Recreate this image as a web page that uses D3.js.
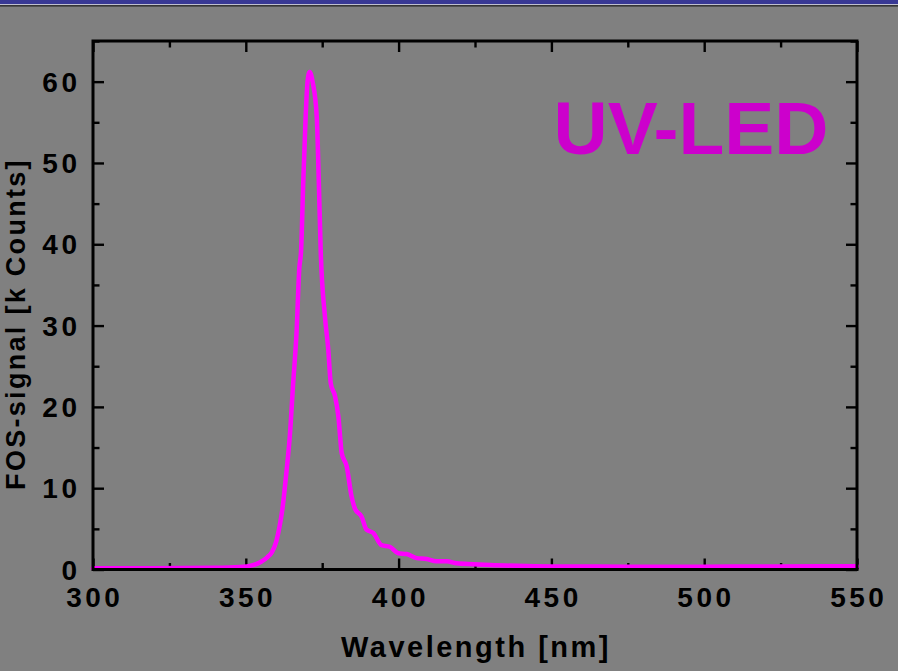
<!DOCTYPE html>
<html>
<head>
<meta charset="utf-8">
<script src="https://cdn.jsdelivr.net/npm/d3@7"></script>
<style>
  html, body { margin: 0; padding: 0; background: #808080; }
  svg { display: block; }
  text { font-family: "Liberation Sans", Arial, Helvetica, sans-serif; font-weight: bold; }
</style>
</head>
<body>
<svg id="chart" width="898" height="671"></svg>
<script>
// Emission spectrum of the UV-LED measured with the FOS spectrometer
const wavelength = [300, 320, 340, 348, 352, 355, 357, 358.5, 360, 361, 362, 363.3, 364.4, 365.5, 366.6, 367.5,
  368.1, 368.8, 369.6, 370.2, 370.9, 371.9, 373.2, 373.9, 374.5, 375.9, 377, 377.8, 379.2, 380.3, 381.4, 383,
  384.6, 385.7, 387.9, 389.5, 391.7, 394.4, 397.1, 399.9, 402.6, 405.9, 409.2, 412.4, 415.7, 419, 424.4, 430,
  438.6, 450, 475, 500, 525, 550];
const signal = [0.15, 0.15, 0.2, 0.3, 0.5, 0.95, 1.5, 2.1, 3.5, 5.2, 7.5, 12, 16.4, 22.9, 29.1, 37,
  39.3, 47.6, 55.8, 60, 61.2, 59.9, 55.8, 47.6, 39.3, 31.1, 27, 22.9, 21.3, 18.8, 14.3, 12.7,
  9.0, 7.5, 6.5, 4.9, 4.5, 3.0, 2.8, 2.0, 1.9, 1.4, 1.3, 1.0, 1.0, 0.76, 0.65, 0.55,
  0.45, 0.38, 0.35, 0.35, 0.38, 0.4];

const xMajorTicks = [300, 350, 400, 450, 500, 550];
const xMinorTicks = [325, 375, 425, 475, 525];
const yMajorTicks = [0, 10, 20, 30, 40, 50, 60];
const yMinorTicks = [5, 15, 25, 35, 45, 55, 65];

const xTitle = "Wavelength [nm]";
const yTitle = "FOS-signal [k Counts]";
const seriesLabel = "UV-LED";

(function () {
  const svg = d3.select("#chart");
  const W = 898;
  const pLeft = 93, pRight = 857, pTop = 41, pBottom = 569.5;

  // slide header band
  svg.append("rect").attr("x", 0).attr("y", 0).attr("width", W).attr("height", 4.5).attr("fill", "#383894");
  svg.append("rect").attr("x", 0).attr("y", 4.2).attr("width", W).attr("height", 1).attr("fill", "#d8d8e0");
  svg.append("rect").attr("x", 0).attr("y", 5.2).attr("width", W).attr("height", 1.3).attr("fill", "#202020");

  const x = d3.scaleLinear().domain([300, 550]).range([pLeft, pRight]);
  const y = d3.scaleLinear().domain([0, 65]).range([pBottom, pTop]);

  const majorLen = 11, minorLen = 6.5;

  function styleAxis(g) {
    g.select(".domain").remove();
    g.selectAll(".tick line").attr("stroke", "#000").attr("stroke-width", 2.4);
  }

  // inward ticks on all four sides
  const sides = [
    [d3.axisBottom, x, `translate(0,${pBottom})`],
    [d3.axisTop, x, `translate(0,${pTop})`],
    [d3.axisLeft, y, `translate(${pLeft},0)`],
    [d3.axisRight, y, `translate(${pRight},0)`]
  ];
  sides.forEach(([axisFn, scale, tr]) => {
    const major = scale === x ? xMajorTicks : yMajorTicks;
    const minor = scale === x ? xMinorTicks : yMinorTicks;
    svg.append("g").attr("transform", tr)
      .call(axisFn(scale).tickValues(major).tickSize(-majorLen).tickFormat(""))
      .call(styleAxis);
    svg.append("g").attr("transform", tr)
      .call(axisFn(scale).tickValues(minor).tickSize(-minorLen).tickFormat(""))
      .call(styleAxis);
  });

  // tick labels
  const ls = 3.5;
  svg.append("g").selectAll("text").data(xMajorTicks).join("text")
    .attr("x", d => x(d) + ls / 2).attr("y", 606.5)
    .attr("text-anchor", "middle").attr("font-size", 28).attr("letter-spacing", ls)
    .attr("fill", "#000").text(d => d);
  svg.append("g").selectAll("text").data(yMajorTicks).join("text")
    .attr("x", 77 + ls).attr("y", d => y(d) + 10)
    .attr("text-anchor", "end").attr("font-size", 28).attr("letter-spacing", ls)
    .attr("fill", "#000").text(d => d);

  // spectrum
  const pts = wavelength.map((w, i) => [w, signal[i]]);
  svg.append("path").datum(pts)
    .attr("fill", "none").attr("stroke", "#ff00ff").attr("stroke-width", 4.5)
    .attr("stroke-linejoin", "round").attr("stroke-linecap", "round")
    .attr("d", d3.line().x(d => x(d[0])).y(d => y(d[1])).curve(d3.curveMonotoneX));

  // frame
  svg.append("rect").attr("x", pLeft).attr("y", pTop)
    .attr("width", pRight - pLeft).attr("height", pBottom - pTop)
    .attr("fill", "none").attr("stroke", "#000").attr("stroke-width", 3);

  // series label
  svg.append("text").attr("x", 691).attr("y", 154)
    .attr("text-anchor", "middle").attr("font-size", 75).attr("fill", "#cc00cc")
    .text(seriesLabel);

  // axis titles
  svg.append("text").attr("x", (pLeft + pRight) / 2 + 1).attr("y", 656.5)
    .attr("text-anchor", "middle").attr("font-size", 29).attr("letter-spacing", 2.5)
    .attr("fill", "#000").text(xTitle);
  svg.append("text").attr("transform", "translate(25,324) rotate(-90)")
    .attr("text-anchor", "middle").attr("font-size", 27).attr("letter-spacing", 2.3)
    .attr("fill", "#000").text(yTitle);
})();
</script>
</body>
</html>
